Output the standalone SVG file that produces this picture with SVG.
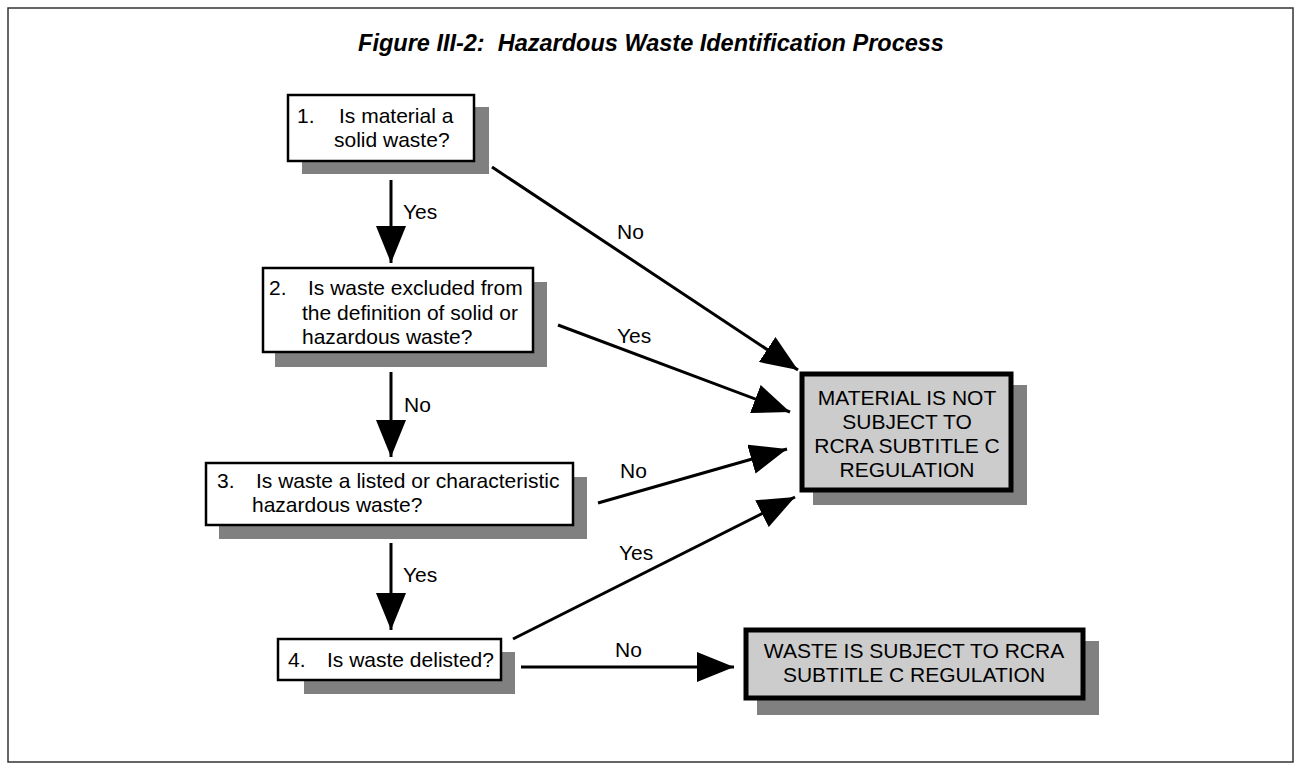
<svg xmlns="http://www.w3.org/2000/svg" width="1302" height="771" viewBox="0 0 1302 771">
<defs>
<style>
.t{font-family:"Liberation Sans",Arial,sans-serif;font-size:21px;fill:#000}
.ttl{font-family:"Liberation Sans",Arial,sans-serif;font-size:23.5px;font-weight:bold;font-style:italic;fill:#000}
.q{fill:#fff;stroke:#000;stroke-width:2.5}
.r{fill:#cccccc;stroke:#000;stroke-width:5}
.sh{fill:#808080}
.c{stroke:#000;stroke-width:3;fill:none;marker-end:url(#ah)}
</style>
<marker id="ah" markerUnits="userSpaceOnUse" markerWidth="37" markerHeight="30" viewBox="0 0 37 30" refX="37" refY="15" orient="auto">
<path d="M0,0 L37,15 L0,30 z" fill="#000"/>
</marker>
</defs>
<rect x="0" y="0" width="1302" height="771" fill="#fff"/>
<rect x="8" y="8" width="1285" height="754" fill="none" stroke="#333" stroke-width="1.5"/>
<text class="ttl" x="651" y="51" text-anchor="middle" xml:space="preserve">Figure III-2:  Hazardous Waste Identification Process</text>

<g id="connectors">
<line class="c" x1="391" y1="180" x2="391" y2="263"/>
<line class="c" x1="391" y1="372" x2="391" y2="457"/>
<line class="c" x1="391" y1="543" x2="391" y2="630"/>
<line class="c" x1="492" y1="167" x2="798" y2="370"/>
<line class="c" x1="558" y1="325" x2="790" y2="412"/>
<line class="c" x1="598" y1="503" x2="787" y2="449"/>
<line class="c" x1="513" y1="639" x2="795" y2="497"/>
<line class="c" x1="521" y1="667" x2="734" y2="667"/>
<text class="t" x="403" y="219">Yes</text>
<text class="t" x="617" y="239">No</text>
<text class="t" x="617" y="343">Yes</text>
<text class="t" x="404" y="412">No</text>
<text class="t" x="620" y="478">No</text>
<text class="t" x="403" y="582">Yes</text>
<text class="t" x="619" y="560">Yes</text>
<text class="t" x="615" y="657">No</text>
</g>

<g id="node1">
<rect class="sh" x="302" y="107" width="187" height="67"/>
<rect class="q" x="288" y="95" width="186" height="66"/>
<text class="t" x="297" y="123">1.</text>
<text class="t" x="339" y="123">Is material a</text>
<text class="t" x="334" y="147">solid waste?</text>
</g>

<g id="node2">
<rect class="sh" x="275" y="282" width="272" height="85"/>
<rect class="q" x="263" y="268" width="270" height="84"/>
<text class="t" x="269" y="295">2.</text>
<text class="t" x="308" y="295">Is waste excluded from</text>
<text class="t" x="302" y="320">the definition of solid or</text>
<text class="t" x="302" y="344">hazardous waste?</text>
</g>

<g id="node3">
<rect class="sh" x="219" y="477" width="368" height="62"/>
<rect class="q" x="206" y="463" width="367" height="62"/>
<text class="t" x="217" y="488">3.</text>
<text class="t" x="256" y="488">Is waste a listed or characteristic</text>
<text class="t" x="252" y="512">hazardous waste?</text>
</g>

<g id="node4">
<rect class="sh" x="304" y="652" width="211" height="42"/>
<rect class="q" x="278" y="639" width="223" height="41"/>
<text class="t" x="288" y="667">4.</text>
<text class="t" x="327" y="667">Is waste delisted?</text>
</g>

<g id="node-not-subject">
<rect class="sh" x="813" y="385" width="214" height="120"/>
<rect class="r" x="802" y="374" width="209" height="116"/>
<text class="t" x="907" y="405" text-anchor="middle">MATERIAL IS NOT</text>
<text class="t" x="907" y="429" text-anchor="middle">SUBJECT TO</text>
<text class="t" x="907" y="453" text-anchor="middle">RCRA SUBTITLE C</text>
<text class="t" x="907" y="477" text-anchor="middle">REGULATION</text>
</g>

<g id="node-subject">
<rect class="sh" x="757" y="641" width="342" height="74"/>
<rect class="r" x="746" y="630" width="337" height="68"/>
<text class="t" x="914" y="658" text-anchor="middle">WASTE IS SUBJECT TO RCRA</text>
<text class="t" x="914" y="682" text-anchor="middle">SUBTITLE C REGULATION</text>
</g>
</svg>
